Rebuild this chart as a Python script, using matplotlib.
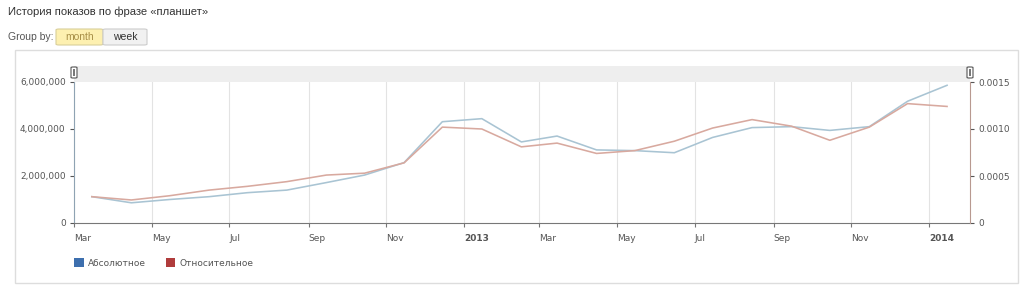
import matplotlib
matplotlib.use("Agg")
import matplotlib.pyplot as plt
import matplotlib.dates as mdates
from matplotlib.patches import Rectangle, FancyBboxPatch, Patch
from matplotlib.ticker import FuncFormatter, FixedLocator
import datetime as dt

# ---- data ----
months = [dt.date(2012, m, 15) for m in range(3, 13)] + \
         [dt.date(2013, m, 15) for m in range(1, 13)] + [dt.date(2014, 1, 15)]
absolute = [1120000, 860000, 1000000, 1120000, 1290000, 1400000, 1720000, 2040000,
            2570000, 4310000, 4440000, 3450000, 3700000, 3110000, 3080000, 2990000,
            3640000, 4060000, 4100000, 3940000, 4100000, 5180000, 5860000]
relative = [0.00028, 0.000245, 0.00029, 0.00035, 0.00039, 0.00044, 0.00051, 0.00053,
            0.00064, 0.00102, 0.00100, 0.00081, 0.00085, 0.00074, 0.00077, 0.00087,
            0.00101, 0.00110, 0.00103, 0.00088, 0.00102, 0.00127, 0.00124]
tick_dates = [dt.date(2012, 3, 1), dt.date(2012, 5, 1), dt.date(2012, 7, 1), dt.date(2012, 9, 1),
              dt.date(2012, 11, 1), dt.date(2013, 1, 1), dt.date(2013, 3, 1), dt.date(2013, 5, 1),
              dt.date(2013, 7, 1), dt.date(2013, 9, 1), dt.date(2013, 11, 1), dt.date(2014, 1, 1)]
tick_labels = ["Mar", "May", "Jul", "Sep", "Nov", "2013", "Mar", "May", "Jul", "Sep", "Nov", "2014"]
series_names = ["Абсолютное", "Относительное"]
title = "История показов по фразе «планшет»"

W, H = 1024, 287
fig = plt.figure(figsize=(W / 100, H / 100), dpi=100)
fig.patch.set_facecolor("white")

def fx(px):
    return px / W

def fy(py):
    return 1 - py / H

L, R, T, B = 74, 970, 82, 223
ax = fig.add_axes([fx(L), fy(B), fx(R - L), fy(T) - fy(B)])
ax2 = ax.twinx()

blue_line = "#a9c4d3"
red_line = "#d8a99f"
ax.plot(months, absolute, color=blue_line, lw=1.15, zorder=3)
ax2.plot(months, relative, color=red_line, lw=1.15, zorder=3)

ax.set_xlim(dt.date(2012, 3, 1), dt.date(2014, 2, 2))
ax.set_ylim(0, 6000000)
ax2.set_ylim(0, 0.0015)
ax.set_yticks([0, 2000000, 4000000, 6000000])
ax2.set_yticks([0, 0.0005, 0.0010, 0.0015])
ax.yaxis.set_major_formatter(FuncFormatter(lambda v, p: f"{int(v):,}"))
ax2.yaxis.set_major_formatter(FuncFormatter(lambda v, p: "0" if v == 0 else f"{v:.4f}"))

ax.xaxis.set_major_locator(FixedLocator(mdates.date2num(tick_dates)))
ax.set_xticklabels(tick_labels)
for lbl in ax.get_xticklabels():
    lbl.set_ha("left")
    if lbl.get_text() in ("2013", "2014"):
        lbl.set_fontweight("bold")
        lbl.set_color("#333333")

ax.grid(axis="x", color="#e3e3e3", lw=0.8, zorder=0)
ax.set_axisbelow(True)

for a in (ax, ax2):
    for s in a.spines.values():
        s.set_visible(False)
ax.spines["left"].set_visible(True)
ax.spines["left"].set_color("#8fa3b3")
ax.spines["bottom"].set_visible(True)
ax.spines["bottom"].set_color("#777777")
ax2.spines["right"].set_visible(True)
ax2.spines["right"].set_color("#b89990")

tick_kw = dict(labelsize=6.5, colors="#555555", length=3, width=0.8, pad=3)
ax.tick_params(axis="y", **tick_kw)
ax.tick_params(axis="x", labelsize=6.5, colors="#777777", labelcolor="#555555", length=3, width=0.8, pad=5)
ax2.tick_params(axis="y", **tick_kw)

# navigator band on top
fig.patches.append(Rectangle((fx(L), fy(82)), fx(R - L), fy(66) - fy(82),
                             transform=fig.transFigure, facecolor="#eeeeee", edgecolor="none", zorder=1))
for hx in (L, R):
    fig.patches.append(FancyBboxPatch((fx(hx - 3), fy(78)), fx(6), fy(67) - fy(78),
                                      boxstyle="round,pad=0.0,rounding_size=0.002",
                                      transform=fig.transFigure, facecolor="white",
                                      edgecolor="#555555", lw=0.8, zorder=5))
    fig.patches.append(Rectangle((fx(hx - 1), fy(76)), fx(2), fy(69) - fy(76),
                                 transform=fig.transFigure, facecolor="#777777",
                                 edgecolor="none", zorder=6))

# panel border
fig.patches.append(Rectangle((fx(15), fy(283)), fx(1003), fy(50) - fy(283),
                             transform=fig.transFigure, facecolor="none",
                             edgecolor="#dddddd", lw=1, zorder=0))

# title & group-by controls
fig.text(fx(8), fy(12), title, fontsize=8.1, color="#333333", va="center", ha="left",
         family="Liberation Sans")
fig.text(fx(8), fy(37), "Group by:", fontsize=7.5, color="#555555", va="center", ha="left",
         family="Liberation Sans")
fig.patches.append(FancyBboxPatch((fx(56), fy(45)), fx(47), fy(29) - fy(45),
                                  boxstyle="round,pad=0,rounding_size=0.003",
                                  transform=fig.transFigure, facecolor="#fdf0b0",
                                  edgecolor="#d9cf9a", lw=0.8))
fig.patches.append(FancyBboxPatch((fx(103), fy(45)), fx(44), fy(29) - fy(45),
                                  boxstyle="round,pad=0,rounding_size=0.003",
                                  transform=fig.transFigure, facecolor="#f1f1f1",
                                  edgecolor="#cccccc", lw=0.8))
fig.text(fx(79.5), fy(37), "month", fontsize=7.5, color="#a89048", va="center", ha="center",
         family="Liberation Sans")
fig.text(fx(125), fy(37), "week", fontsize=7.5, color="#333333", va="center", ha="center",
         family="Liberation Sans")

# legend
handles = [Patch(facecolor="#3d6fae", edgecolor="none"), Patch(facecolor="#b03c3c", edgecolor="none")]
leg = fig.legend(handles, series_names, loc="center left",
                 bbox_to_anchor=(fx(66), fy(263)), ncol=2, frameon=False,
                 fontsize=6.5, handlelength=1.1, handleheight=1.1, handletextpad=0.4,
                 columnspacing=2.2, labelcolor="#555555")

fig.savefig("out.png", dpi=100, facecolor="white")
